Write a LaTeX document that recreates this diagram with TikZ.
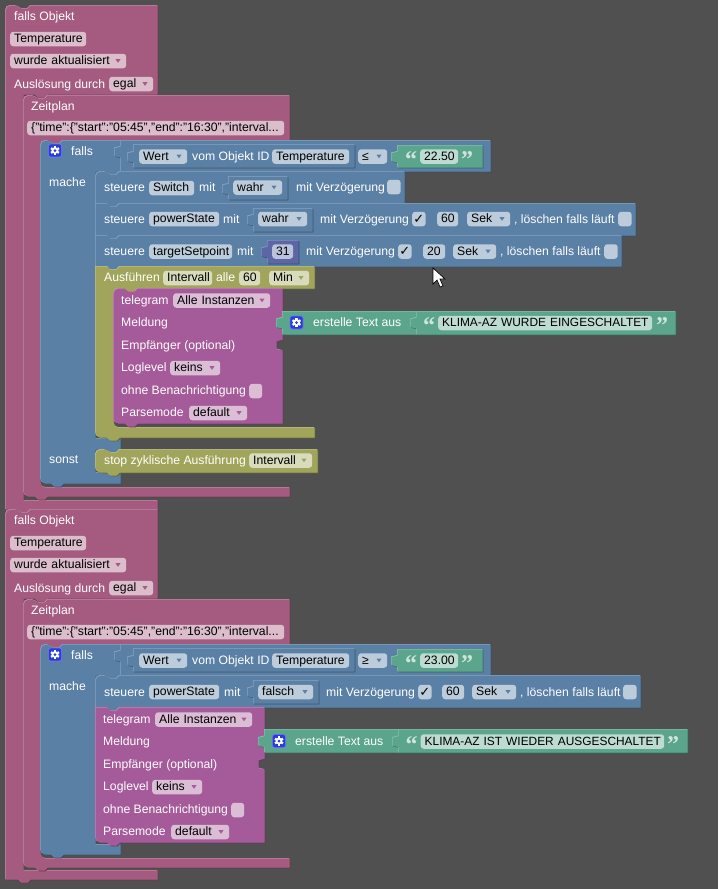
\documentclass[tikz,border=0pt]{standalone}
\usepackage{fontspec}
\setmainfont{Liberation Sans}
\newfontfamily\symfont{DejaVu Sans}
\newfontfamily\quotefont{Liberation Serif}[BoldFont={Liberation Serif Bold}]
\definecolor{bgdark}{RGB}{80,80,80}
\definecolor{pinkblk}{RGB}{165,91,128}
\definecolor{purpleblk}{RGB}{165,91,153}
\definecolor{blueblk}{RGB}{91,128,165}
\definecolor{greenblk}{RGB}{91,165,140}
\definecolor{oliveblk}{RGB}{160,165,91}
\definecolor{indigoblk}{RGB}{91,103,165}
\definecolor{gearblue}{RGB}{40,60,215}
\tikzset{
    lbl/.style={anchor=west,inner sep=0pt,text=white,text height=9pt,text depth=2pt,font=\fontsize{12.2}{14}\selectfont},
    fieldbox/.style={anchor=west,inner xsep=4pt,inner ysep=0pt,minimum height=14.5pt,rounded corners=3pt,align=left,text=black,
        text height=9pt,text depth=2pt,font=\fontsize{12.2}{14}\selectfont},
    tickmark/.style={inner sep=0pt,font=\symfont\fontsize{13}{13}\selectfont},
    quotemark/.style={anchor=base west,inner sep=0pt,text=white!70!greenblk,font=\quotefont\bfseries\fontsize{24}{24}\selectfont},
    gearicon/.pic={
        \fill[gearblue!70!white,rounded corners=2.5pt] (-7,-7) rectangle (7,7);
        \fill[gearblue,rounded corners=2.5pt] (-6.2,-6.2) rectangle (6.2,6.2);
        \foreach \a in {0,60,...,300} \fill[white,rotate=\a] (-1.1,-4.6) rectangle (1.1,-2.5);
        \fill[white] (0,0) circle (3.4);
        \fill[gearblue] (0,0) circle (1.5);
    }
}
\newcommand{\notch}{-- ++(3,3) -- ++(6,0) -- ++(3,-3)}
\newcommand{\bump}{-- ++(-3,3) -- ++(-6,0) -- ++(-3,-3)}
\newcommand{\tabup}{-- ++(-6,-1.5) -- ++(0,-8) -- ++(6,-1.5)}
\newcommand{\sockdn}{-- ++(-6,1.5) -- ++(0,8) -- ++(6,1.5)}
\newcommand{\block}[2]{
    \fill[#1!62!black,shift={(1.4,1.4)}] #2;
    \fill[#1!72!white] #2;
    \fill[#1,shift={(0.7,0.7)}] #2;
}
% name, colour, left, right, y, text
\newcommand{\fld}[6]{\node[fieldbox,fill=white!60!#2,text width={(#4-#3-8)*1pt}] (#1) at (#3,#5) {\mbox{#6}};}
\newcommand{\ddf}[6]{\fld{#1}{#2}{#3}{#4}{#5}{#6}
    \fill[#2] ({#4-10.5},{#5-1.8}) -- ({#4-5.5},{#5-1.8}) -- ({#4-8},{#5+1.8}) -- cycle;}
\begin{document}
\begin{tikzpicture}[x=1pt,y=-1pt]
    \fill[bgdark] (0,0) rectangle (718,889);
    \useasboundingbox (0,0) rectangle (718,889);
    % outer blocks, one after the other
    \foreach \pre/\dy/\ei/\eb/\zi/\zb in {up-/0/500/509/487/496,low-/504/366/375/354/363} {
        \begin{scope}[shift={(0,\dy)},name prefix=\pre]
            \block{pinkblk}{(5,200) [rounded corners=5pt] -- (5,5) -- (18,5) [sharp corners] \notch -- (157,5) -- (157,94) -- (47,94) \bump -- (23,94) -- (23,\ei) -- (157,\ei) -- (157,\eb) -- (30,\eb) \bump -- (5,\eb) -- cycle}
            \block{pinkblk}{(23,200) [rounded corners=5pt] -- (23,95) -- (35,95) [sharp corners] \notch -- (289,95) -- (289,140) -- (62,140) \bump -- (50,140) [rounded corners=5pt] -- (40,140) -- (40,\zi) -- (60,\zi) [sharp corners] -- (289,\zi) -- (289,\zb) -- (47,\zb) \bump [rounded corners=5pt] -- (23,\zb) -- cycle}
        \end{scope}
    }
    % falls blocks
    \block{blueblk}{(40,300) [rounded corners=5pt] -- (40,140) -- (50,140) [sharp corners] \notch -- (120,140) -- (120,171) -- (119,171) \bump -- (95,171) -- (95,438) -- (120,438) -- (120,449) -- (119,449) \bump -- (95,449) -- (95,472) -- (120,472) -- (120,483) -- (63,483) \bump [rounded corners=5pt] -- (40,483) -- cycle}
    \block{blueblk}{(40,700) [rounded corners=5pt] -- (40,644) -- (50,644) [sharp corners] \notch -- (120,644) -- (120,675) -- (119,675) \bump -- (95,675) -- (95,844) -- (120,844) -- (120,854) -- (63,854) \bump [rounded corners=5pt] -- (40,854) -- cycle}
    % what both halves have in common
    \foreach \pre/\dy/\opr/\val in {up-/0/≤/22.50,low-/504/≥/23.00} {
        \begin{scope}[shift={(0,\dy)},name prefix=\pre]
            \block{blueblk}{(120,171) -- (120,157) \tabup -- (120,140) -- (490,140) -- (490,171) -- cycle}
            \block{blueblk}{(133,167) -- (133,162) \tabup -- (133,144) -- (354,144) -- (354,167) -- cycle}
            \block{greenblk}{(397,167) -- (397,162) \tabup -- (397,145) -- (482,145) -- (482,167) -- cycle}
            \foreach \n/\x/\y/\t in {a/14/17/falls Objekt,b/14/84.5/Auslösung durch,c/31/107/Zeitplan,d/71/152/falls,e/49/183/mache,f/192/157/vom Objekt ID} {
                \node[lbl] (lbl\n) at (\x,\y) {\t};
            }
            \fld{objid}{pinkblk}{10}{86}{39}{Temperature}
            \ddf{trigger}{pinkblk}{10}{126}{61}{wurde aktualisiert}
            \ddf{source}{pinkblk}{109}{153}{84}{egal}
            \fld{cron}{pinkblk}{27}{284}{128}{\{"time":\{"start":"05:45","end":"16:30","interval...}
            \ddf{wert}{blueblk}{139}{187}{156.5}{Wert}
            \fld{oid}{blueblk}{272}{349}{156.5}{Temperature}
            \ddf{cmp}{blueblk}{358}{387}{156.5}{\opr}
            \fld{limit}{greenblk}{420}{458}{156.5}{\val}
            \node[quotemark] (qa) at (405,167) {“};
            \node[quotemark] (qb) at (461,167) {”};
            \pic at (55,150.5) {gearicon};
        \end{scope}
    }
    % upper statements
    \block{blueblk}{(95,203) [rounded corners=5pt] -- (95,171) -- (107,171) [sharp corners] \notch -- (404,171) -- (404,203) -- (119,203) \bump -- cycle}
    \block{blueblk}{(228,199) -- (228,194) \tabup -- (228,176) -- (287,176) -- (287,199) -- cycle}
    \block{blueblk}{(95,235) -- (95,203) -- (107,203) \notch -- (635,203) -- (635,235) -- (119,235) \bump -- cycle}
    \block{blueblk}{(253,231) -- (253,225) \tabup -- (253,208) -- (312,208) -- (312,231) -- cycle}
    \block{blueblk}{(95,266) -- (95,235) -- (107,235) \notch -- (621,235) -- (621,266) -- (119,266) \bump -- cycle}
    \block{indigoblk}{(267,263) -- (267,257) \tabup -- (267,240) -- (298,240) -- (298,263) -- cycle}
    \block{oliveblk}{(95,300) -- (95,266) -- (107,266) \notch -- (314,266) -- (314,288) -- (137,288) \bump -- (125,288) [rounded corners=5pt] -- (113,288) -- (113,427) -- (130,427) [sharp corners] -- (314,427) -- (314,437) -- (119,437) \bump [rounded corners=5pt] -- (95,437) -- cycle}
    \block{oliveblk}{(95,460) [rounded corners=5pt] -- (95,449) -- (107,449) [sharp corners] \notch -- (317,449) -- (317,472) -- (119,472) \bump [rounded corners=5pt] -- (95,472) -- cycle}
    \foreach \n/\x/\y/\t in {s1/104/188/steuere,s2/199/188/mit,s3/296/188/mit Verzögerung,p1/104/219.5/steuere,p2/223/219.5/mit,p3/320/219.5/mit Verzögerung,p4/514/219.5/{, löschen falls läuft},t1/104/252/steuere,t2/237/252/mit,t3/306/252/mit Verzögerung,t4/500/252/{, löschen falls läuft},r1/104/278/Ausführen,r2/216/278/alle,o1/49/460/sonst,o2/104/461/stop zyklische Ausführung} {
        \node[lbl] (lbl\n) at (\x,\y) {\t};
    }
    \foreach \n/\a/\b/\y/\t in {fa/149/194/188/Switch,fb/149/219/219/powerState,fc/149/232/251.5/targetSetpoint,fd/437/458/219/60,fe/423/445/251.5/20} {
        \fld{\n}{blueblk}{\a}{\b}{\y}{\t}
    }
    \ddf{dswitch}{blueblk}{233}{282}{187.5}{wahr}
    \ddf{dpower}{blueblk}{258}{307}{219}{wahr}
    \ddf{uniteins}{blueblk}{467}{510}{219}{Sek}
    \ddf{unitzwei}{blueblk}{453}{496}{251.5}{Sek}
    \fld{numa}{indigoblk}{272}{293}{251.5}{31}
    \fld{runname}{oliveblk}{163}{212}{278}{Intervall}
    \fld{runtime}{oliveblk}{239}{260}{278}{60}
    \ddf{rununit}{oliveblk}{269}{309}{278}{Min}
    \ddf{stopname}{oliveblk}{249}{312}{460.5}{Intervall}
    \foreach \n/\x/\y in {ca/387/187,cd/618/219,ce/604/251.5} {
        \fld{\n}{blueblk}{\x}{\x+13.5}{\y}{}
    }
    \fld{cb}{blueblk}{412}{425.5}{219}{}
    \fld{cc}{blueblk}{398}{411.5}{251.5}{}
    \node[tickmark] (tickb) at (418.7,219) {✓};
    \node[tickmark] (tickc) at (404.7,251.5) {✓};
    % lower statement
    \block{blueblk}{(95,707) [rounded corners=5pt] -- (95,675) -- (107,675) [sharp corners] \notch -- (640,675) -- (640,707) -- (119,707) \bump -- cycle}
    \block{blueblk}{(253,703) -- (253,697) \tabup -- (253,680) -- (318,680) -- (318,703) -- cycle}
    \foreach \n/\x/\y/\t in {l1/104/692.5/steuere,l2/224/692.5/mit,l3/326/692.5/mit Verzögerung,l4/520/692.5/{, löschen falls läuft}} {
        \node[lbl] (lbl\n) at (\x,\y) {\t};
    }
    \fld{fl}{blueblk}{149}{219}{692}{powerState}
    \fld{fm}{blueblk}{442}{464}{692}{60}
    \ddf{dlow}{blueblk}{258}{313}{692}{falsch}
    \ddf{unitlow}{blueblk}{472}{516}{692}{Sek}
    \fld{cf}{blueblk}{418}{431.5}{692}{}
    \fld{cg}{blueblk}{623}{636.5}{692}{}
    \node[tickmark] (tickf) at (424.7,692) {✓};
    % telegram blocks
    \foreach \pre/\sx/\sy/\rad in {ta-/0/0/5,tb-/-18/419/0.01} {
        \begin{scope}[shift={(\sx,\sy)},name prefix=\pre]
            \block{purpleblk}{(113,350) [rounded corners=\rad pt] -- (113,288) -- (125,288) [sharp corners] \notch -- (282,288) -- (282,317) \sockdn -- (282,339) \sockdn -- (282,423) -- (137,423) \bump [rounded corners=5pt] -- (113,423) -- cycle}
            \foreach \n/\y/\t in {a/301/telegram,b/323/Meldung,c/346/Empfänger (optional),d/368/Loglevel,e/391/ohne Benachrichtigung,f/413/Parsemode} {
                \node[lbl] (lbl\n) at (121,\y) {\t};
            }
            \ddf{inst}{purpleblk}{173}{270}{300.5}{Alle Instanzen}
            \ddf{level}{purpleblk}{170}{220}{368}{keins}
            \ddf{mode}{purpleblk}{189}{247}{413}{default}
            \fld{silent}{purpleblk}{249}{262}{391}{}
        \end{scope}
    }
    % text blocks
    \block{greenblk}{(282,334) -- (282,328) \tabup -- (282,311) -- (675,311) -- (675,334) -- cycle}
    \block{greenblk}{(416,334) -- (416,328) \tabup -- (416,311) -- (675,311) -- (675,334) -- cycle}
    \node[lbl] (lbltexta) at (313,323) {erstelle Text aus};
    \fld{msga}{greenblk}{438}{652}{323}{\fontsize{11.9}{14}\selectfont KLIMA-AZ WURDE EINGESCHALTET}
    \node[quotemark] (qc) at (423,333.5) {“};
    \node[quotemark] (qd) at (656,333.5) {”};
    \pic at (296.5,322.5) {gearicon};
    \block{greenblk}{(264,752) -- (264,746.5) \tabup -- (264,729) -- (687,729) -- (687,752) -- cycle}
    \block{greenblk}{(398,752) -- (398,746.5) \tabup -- (398,729) -- (687,729) -- (687,752) -- cycle}
    \node[lbl] (lbltextb) at (295,742) {erstelle Text aus};
    \fld{msgb}{greenblk}{420.5}{664}{741.5}{\fontsize{11.9}{14}\selectfont KLIMA-AZ IST WIEDER AUSGESCHALTET}
    \node[quotemark] (qe) at (405.5,752) {“};
    \node[quotemark] (qf) at (667,752) {”};
    \pic at (279,741) {gearicon};
    % mouse pointer
    \filldraw[fill=white,draw=black,line width=0.7pt] (433,268) -- (433,284) -- (437,280) -- (440,287) -- (443,286) -- (440,279) -- (445,279) -- cycle;
\end{tikzpicture}
\end{document}
